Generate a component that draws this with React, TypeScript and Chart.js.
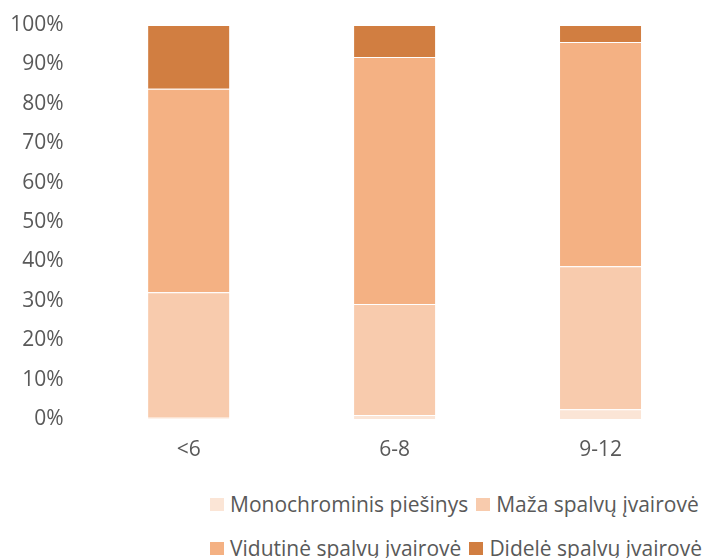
import React, { useEffect, useRef } from "react";
import { Chart, registerables } from "chart.js";

Chart.register(...registerables);

const categories = ["<6", "6-8", "9-12"];
const seriesNames = [
  "Monochrominis piešinys",
  "Maža spalvų įvairovė",
  "Vidutinė spalvų įvairovė",
  "Didelė spalvų įvairovė",
];
const monochrome = [0.3, 1.0, 2.5];
const small = [31.9, 28.2, 36.3];
const medium = [51.6, 62.7, 56.9];
const large = [16.2, 8.1, 4.3];
const colors = ["#FBE5D6", "#F8CBAD", "#F4B183", "#D17E41"];
const yTicks = [0, 10, 20, 30, 40, 50, 60, 70, 80, 90, 100];

const FONT = "'Open Sans', sans-serif";
const TEXT = "#595959";
const SIZE = 21;

export default function App() {
  const ref = useRef<HTMLCanvasElement | null>(null);
  useEffect(() => {
    document.body.style.margin = "0";
    const values = [monochrome, small, medium, large];
    const chart = new Chart(ref.current as HTMLCanvasElement, {
      type: "bar",
      data: {
        labels: categories,
        datasets: seriesNames.map((name, i) => ({
          label: name,
          data: values[i],
          backgroundColor: colors[i],
          borderColor: "rgba(255,255,255,0.5)",
          borderWidth: 1,
          barPercentage: 0.403,
          categoryPercentage: 1,
        })),
      },
      options: {
        animation: false,
        responsive: false,
        maintainAspectRatio: false,
        layout: { padding: { top: 25, bottom: 1, left: 0, right: 5.5 } },
        plugins: { legend: { display: false }, tooltip: { enabled: false } },
        scales: {
          x: {
            stacked: true,
            grid: { display: false, drawTicks: false },
            border: { display: false },
            ticks: { color: TEXT, font: { family: FONT, size: SIZE }, padding: 18 },
            afterFit: (axis: any) => {
              axis.height = 40;
            },
          },
          y: {
            stacked: true,
            min: 0,
            max: 100,
            grid: { display: false, drawTicks: false },
            border: { display: false },
            afterBuildTicks: (axis: any) => {
              axis.ticks = yTicks.map((v) => ({ value: v }));
            },
            ticks: {
              color: TEXT,
              font: { family: FONT, size: SIZE },
              padding: 22,
              callback: (v: any) => v + "%",
            },
            afterFit: (axis: any) => {
              axis.width = 85.7;
              axis.paddingTop = 0;
              axis.paddingBottom = 0;
            },
          },
        },
      },
    });
    return () => chart.destroy();
  }, []);

  const rows = [
    [0, 1],
    [2, 3],
  ];
  return (
    <div style={{ position: "absolute", left: 0, top: 0, width: 709, height: 558, background: "#fff" }}>
      <canvas ref={ref} width={709} height={460} style={{ position: "absolute", left: 0, top: 0 }} />
      {rows.map((row, r) => (
        <div
          key={r}
          style={{
            position: "absolute",
            left: 210,
            top: 490 + r * 44,
            height: 28,
            display: "flex",
            alignItems: "center",
            whiteSpace: "nowrap",
            fontFamily: FONT,
            fontSize: SIZE,
            color: TEXT,
          }}
        >
          {row.map((i) => (
            <div key={i} style={{ display: "flex", alignItems: "center", marginRight: 8 }}>
              <span style={{ display: "inline-block", width: 14, height: 13, background: colors[i], marginRight: 6 }} />
              <span>{seriesNames[i]}</span>
            </div>
          ))}
        </div>
      ))}
    </div>
  );
}
